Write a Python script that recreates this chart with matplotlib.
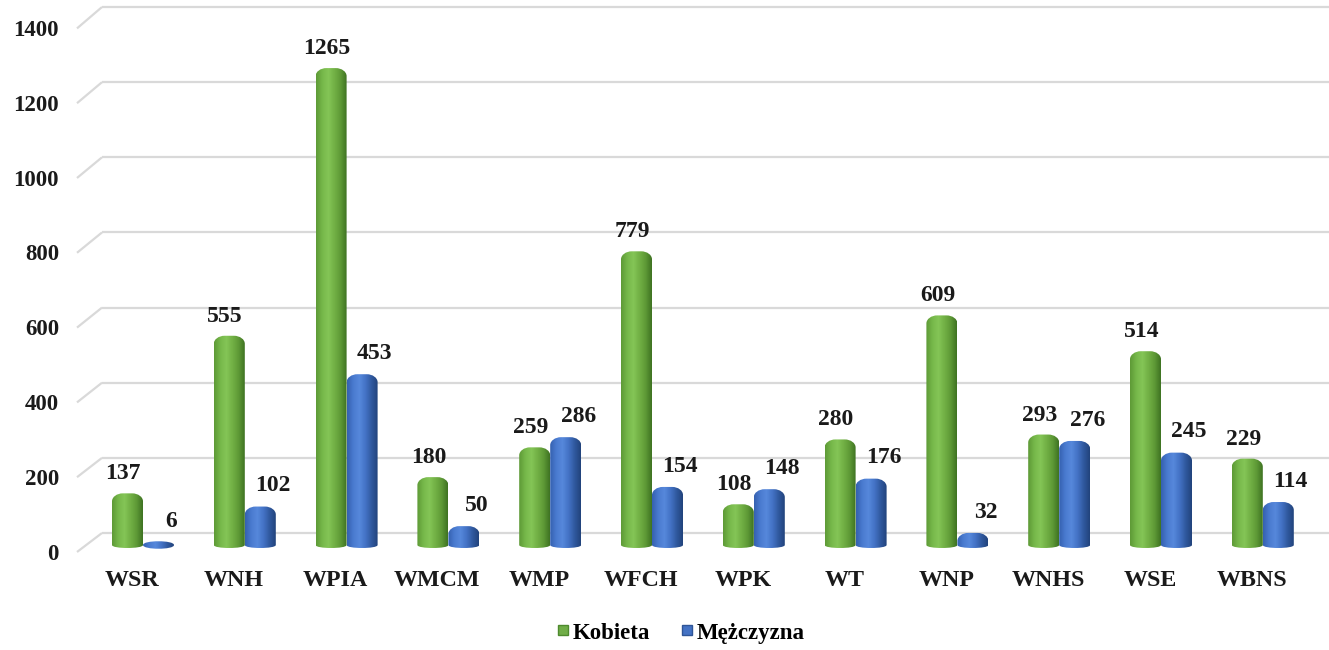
import matplotlib
matplotlib.use("Agg")
import matplotlib.pyplot as plt
import numpy as np
from matplotlib.path import Path
from matplotlib.patches import PathPatch
from matplotlib.colors import LinearSegmentedColormap
from matplotlib.lines import Line2D

categories = ["WSR", "WNH", "WPIA", "WMCM", "WMP", "WFCH", "WPK", "WT", "WNP", "WNHS", "WSE", "WBNS"]
kobieta = [137, 555, 1265, 180, 259, 779, 108, 280, 609, 293, 514, 229]
mezczyzna = [6, 102, 453, 50, 286, 154, 148, 176, 32, 276, 245, 114]
series_names = ["Kobieta", "Mężczyzna"]
yticks = [0, 200, 400, 600, 800, 1000, 1200, 1400]

W, H = 1329, 650
fig = plt.figure(figsize=(W / 100, H / 100), dpi=100)
ax = fig.add_axes([0, 0, 1, 1])
ax.axis("off")

# pixel <-> data helpers (layout only)
X0, DX = 143.0, 101.8
Y0, KY = 545.0, 0.377
def xd(px):
    return (px - X0) / DX
def yd(py):
    return (Y0 - py) / KY

ax.set_xlim(xd(0), xd(W))
ax.set_ylim(yd(H), yd(0))

FONT = "Liberation Serif"
TXT = "#1a1a1a"
grid_c = "#D9D9D9"
# perspective of the back wall / front edge (slightly different scale)
def back_v(t):
    return yd(533 - t * 0.3757)
def front_v(t):
    return yd(552 - t * 0.374)

for t in yticks:
    ax.plot([xd(77), xd(102)], [front_v(t), back_v(t)], color=grid_c, lw=1.6, zorder=1,
            solid_capstyle="butt")
    ax.plot([xd(102), xd(W)], [back_v(t), back_v(t)], color=grid_c, lw=1.6, zorder=1,
            solid_capstyle="butt")
    ax.text(xd(59), front_v(t) - 2 / KY, str(t), ha="right", va="center", fontsize=16.5,
            fontweight="bold", family=FONT, color=TXT)

x = np.arange(len(categories))
bw = 31 / DX
green_cmap = LinearSegmentedColormap.from_list(
    "g", ["#5E9A36", "#76B84A", "#84C556", "#72B045", "#5E9A36", "#3F7323"])
blue_cmap = LinearSegmentedColormap.from_list(
    "b", ["#3561B0", "#4A7BD0", "#5688DB", "#4473C6", "#30599F", "#22437C"])

bars_k = ax.bar(x - bw / 2, kobieta, bw, color="none", edgecolor="none")
bars_m = ax.bar(x + bw / 2, mezczyzna, bw, color="none", edgecolor="none")

def cyl_path(rect):
    x0 = rect.get_x()
    w = rect.get_width()
    x1 = x0 + w
    h = rect.get_height()
    ry = 8 / KY
    rb = 4 / KY
    rx = w * 0.35
    top = h
    if top - ry < 0:
        e = 5 / KY
        verts = [(x0, 0), (x0, e), (x1, e), (x1, 0), (x1, -e), (x0, -e), (x0, 0), (x0, 0)]
        codes = [Path.MOVETO, Path.CURVE4, Path.CURVE4, Path.CURVE4,
                 Path.CURVE4, Path.CURVE4, Path.CURVE4, Path.CLOSEPOLY]
        return Path(verts, codes)
    k = 0.55
    verts = [
        (x0, 0),
        (x0, top - ry),
        (x0, top - ry + k * ry), (x0 + rx - k * rx, top), (x0 + rx, top),
        (x1 - rx, top),
        (x1 - rx + k * rx, top), (x1, top - ry + k * ry), (x1, top - ry),
        (x1, 0),
        (x1, -rb), (x0, -rb), (x0, 0),
        (x0, 0),
    ]
    codes = [Path.MOVETO, Path.LINETO,
             Path.CURVE4, Path.CURVE4, Path.CURVE4,
             Path.LINETO,
             Path.CURVE4, Path.CURVE4, Path.CURVE4,
             Path.LINETO,
             Path.CURVE4, Path.CURVE4, Path.CURVE4,
             Path.CLOSEPOLY]
    return Path(verts, codes)

grad = np.linspace(0, 1, 64).reshape(1, -1)
for bars, cmap in ((bars_k, green_cmap), (bars_m, blue_cmap)):
    for r in bars:
        p = cyl_path(r)
        patch = PathPatch(p, facecolor="none", edgecolor="none", zorder=3)
        ax.add_patch(patch)
        x0 = r.get_x()
        x1 = x0 + r.get_width()
        im = ax.imshow(grad, cmap=cmap, aspect="auto", extent=(x0, x1, -30, r.get_height() + 5),
                       zorder=3, interpolation="bilinear")
        im.set_clip_path(patch)

ax.set_xlim(xd(0), xd(W))
ax.set_ylim(yd(H), yd(0))

for r, v in zip(bars_k, kobieta):
    ax.annotate(str(v), (r.get_x() + r.get_width() / 2, v), xytext=(-3, 14),
                textcoords="offset points", ha="center", va="center", fontsize=17,
                fontweight="bold", family=FONT, color=TXT, zorder=5)
for r, v in zip(bars_m, mezczyzna):
    ax.annotate(str(v), (r.get_x() + r.get_width() / 2, v), xytext=(9, 15),
                textcoords="offset points", ha="center", va="center", fontsize=17,
                fontweight="bold", family=FONT, color=TXT, zorder=5)

for xi, c in zip(x, categories):
    ax.text(xi - 11 / DX, yd(580), c, ha="center", va="center", fontsize=17.3,
            fontweight="bold", family=FONT, color=TXT)

handles = [Line2D([], [], marker="s", linestyle="none", markersize=7.5,
                  markerfacecolor="#70AD47", markeredgecolor="#4E8A2E"),
           Line2D([], [], marker="s", linestyle="none", markersize=7.5,
                  markerfacecolor="#4472C4", markeredgecolor="#2F5597")]
fig.legend(handles, series_names, loc="center", bbox_to_anchor=(681 / W, 1 - 633 / H),
           ncol=2, frameon=False, handlelength=0.5, handletextpad=0.15, columnspacing=1.4,
           prop={"family": FONT, "weight": "bold", "size": 16.5})

fig.savefig("out.png", dpi=100)
